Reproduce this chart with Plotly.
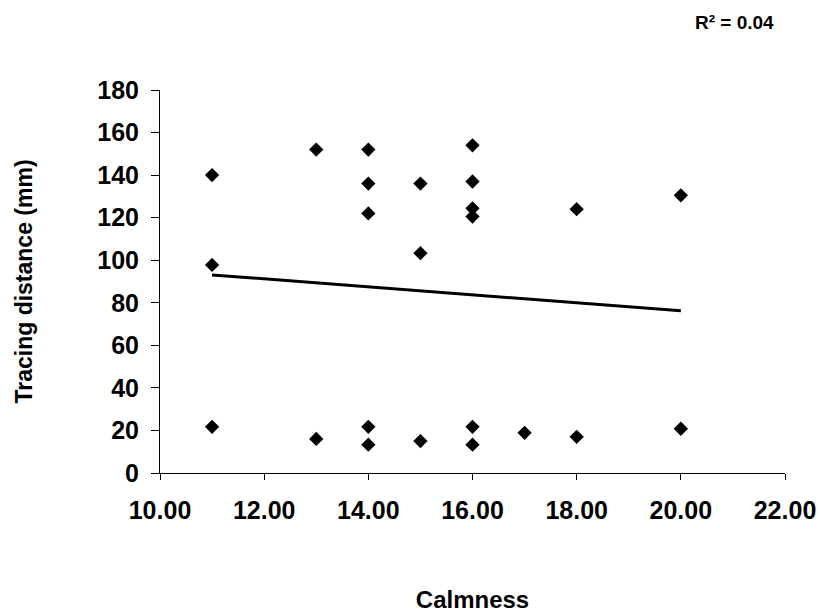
import plotly.graph_objects as go

# Data
calmness = [11, 11, 11, 13, 13, 14, 14, 14, 14, 14, 15, 15, 15,
            16, 16, 16, 16, 16, 16, 17, 18, 18, 20, 20]
distance = [140, 97.8, 21.7, 152, 16, 152, 136, 122, 21.7, 13.3, 136, 103.3, 15,
            154, 137, 124.4, 120.5, 21.7, 13.3, 18.9, 124, 17, 130.5, 20.8]

# Linear trendline endpoints as drawn in the reference
trend_x = [11, 20]
trend_y = [93.1, 76.2]
r2_text = "R² = 0.04"

FONT = "Liberation Sans, Arial, sans-serif"

fig = go.Figure()
fig.add_trace(go.Scatter(
    x=calmness, y=distance, mode="markers",
    marker=dict(symbol="diamond", size=11, color="black", line=dict(width=0)),
    showlegend=False, hoverinfo="x+y"))
fig.add_trace(go.Scatter(
    x=trend_x, y=trend_y, mode="lines",
    line=dict(color="black", width=3),
    showlegend=False, hoverinfo="skip"))

fig.update_layout(
    width=820, height=613,
    margin=dict(l=160, r=35, t=90, b=140, autoexpand=False),
    paper_bgcolor="white", plot_bgcolor="white",
    font=dict(family=FONT, color="black", size=24, weight="bold"),
    xaxis=dict(
        range=[10, 22], dtick=2, tick0=10, tickformat=".2f",
        showgrid=False, zeroline=False, automargin=False,
        showline=True, linecolor="black", linewidth=1,
        ticks="outside", ticklen=6, tickcolor="black", tickwidth=1,
        ticklabelstandoff=9,
        tickfont=dict(family=FONT, size=25, weight="bold", color="black"),
        title=dict(text="Calmness", standoff=68,
                   font=dict(family=FONT, size=24, weight="bold", color="black")),
    ),
    yaxis=dict(
        range=[0, 180], dtick=20, tick0=0,
        showgrid=False, zeroline=False, automargin=False,
        showline=True, linecolor="black", linewidth=1,
        ticks="outside", ticklen=8, tickcolor="black", tickwidth=1,
        ticklabelstandoff=7,
        tickfont=dict(family=FONT, size=25, weight="bold", color="black"),
        title=dict(text="Tracing distance (mm)", standoff=58,
                   font=dict(family=FONT, size=23, weight="bold", color="black")),
    ),
    annotations=[dict(
        text=r2_text, xref="paper", yref="paper",
        x=(776 - 160) / (820 - 160 - 35), y=1 + (90 - 22) / (613 - 90 - 140),
        xanchor="right", yanchor="middle", showarrow=False,
        font=dict(family=FONT, size=19, weight="bold", color="black"))],
)

fig.write_html("out.html")
